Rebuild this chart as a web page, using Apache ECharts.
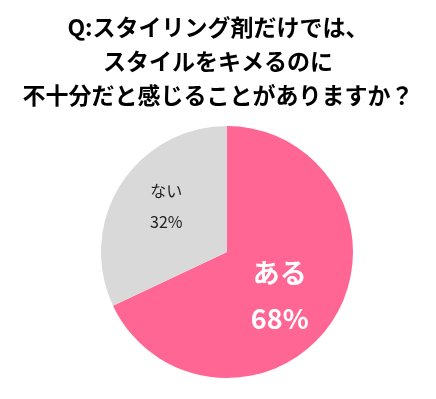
<!DOCTYPE html>
<html>
<head>
<meta charset="utf-8">
<script src="https://cdn.jsdelivr.net/npm/echarts@6/dist/echarts.min.js"></script>
<style>
html,body{margin:0;padding:0;background:#fff;}
#chart{width:436px;height:399px;}
</style>
</head>
<body>
<div id="chart"></div>
<script>
const titleLines = ['Q:スタイリング剤だけでは、', 'スタイルをキメるのに', '不十分だと感じることがありますか？'];
const categories = ['ある', 'ない'];
const values = [68, 32];

const colors = ['#FF6694', '#D9D9D9'];
const labelStyles = [
  { color: '#ffffff', fontSize: 27, fontWeight: 'bold', lineHeight: 46, offset: [-3, 8] },
  { color: '#222222', fontSize: 16, fontWeight: 'normal', lineHeight: 31, offset: [-5, -10] }
];

const chart = echarts.init(document.getElementById('chart'));
chart.setOption({
  animation: false,
  title: {
    text: titleLines.join('\n'),
    left: 'center',
    top: 5,
    textStyle: {
      fontFamily: 'Noto Sans CJK JP',
      fontSize: 23,
      fontWeight: 'bold',
      color: '#000',
      lineHeight: 34
    }
  },
  series: [{
    type: 'pie',
    center: [227, 252],
    radius: [0, 126],
    startAngle: 90,
    clockwise: true,
    silent: true,
    label: {
      show: true,
      position: 'inside',
      formatter: '{b}\n{d}%',
      fontFamily: 'Noto Sans CJK JP'
    },
    labelLine: { show: false },
    itemStyle: { borderWidth: 0 },
    data: categories.map((c, i) => ({
      name: c,
      value: values[i],
      itemStyle: { color: colors[i] },
      label: labelStyles[i]
    }))
  }]
});
</script>
</body>
</html>
